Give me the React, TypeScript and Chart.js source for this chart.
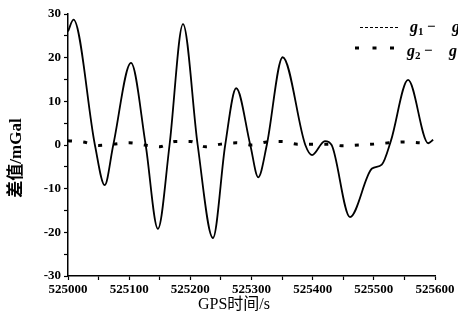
import React, { useEffect, useRef } from "react";
import { Chart, registerables } from "chart.js";

Chart.register(...registerables);

// GPS time offsets (s from 525000) and values for g1 - g (mGal)
const mainT = [0, 9, 44, 60, 74, 103, 127, 147, 166, 188, 212, 237, 257, 275, 298, 311, 325, 351, 388, 399, 420, 431, 461, 497, 513, 528, 556, 589, 597];
const mainV = [26, 28.7, 0, -9.2, 0, 18.8, 0, -19.2, 0, 27.7, 0, -21.3, 0, 13, 0, -7.4, 0, 20.1, 0, -2.3, 0.9, 0, -16.5, -5.4, -4.5, 1, 14.9, 0.4, 1.2];

// g2 - g (mGal)
const dotT = [0, 25, 50, 75, 100, 125, 150, 175, 200, 225, 250, 275, 300, 325, 350, 375, 400, 425, 450, 475, 500, 525, 550, 575];
const dotV = [1.0, 0.7, -0.1, 0.2, 0.5, 0, -0.4, 0.8, 0.8, -0.4, 0.2, 0.5, 0, 0.7, 0.8, 0.2, 0.2, 0.2, -0.2, 0, 0.2, 0.5, 0.7, 0.5];

const T0 = 525000;
const xMin = 525000;
const xMax = 525600;
const yMin = -30;
const yMax = 30;

const yTitle = "差值/mGal";
const xTitle = "GPS时间/s";
const legendSub = ["1", "2"];

const SERIF = '"Liberation Serif", "DejaVu Serif", "Noto Sans CJK SC", serif';

const overlay = {
  id: "overlay",
  afterDraw(chart: any) {
    const ctx = chart.ctx as CanvasRenderingContext2D;
    ctx.save();
    ctx.fillStyle = "#000";
    ctx.strokeStyle = "#000";
    // y title
    ctx.save();
    ctx.translate(17, 158);
    ctx.rotate(-Math.PI / 2);
    ctx.font = `bold 17px ${SERIF}`;
    ctx.textAlign = "center";
    ctx.textBaseline = "middle";
    ctx.fillText(yTitle, 0, 0);
    ctx.restore();
    // x title
    ctx.font = `16px ${SERIF}`;
    ctx.textAlign = "center";
    ctx.textBaseline = "middle";
    ctx.fillText(xTitle, 234, 305);

    // legend
    ctx.lineWidth = 1;
    ctx.setLineDash([3, 2]);
    ctx.beginPath();
    ctx.moveTo(360, 27.5);
    ctx.lineTo(400, 27.5);
    ctx.stroke();
    ctx.lineWidth = 3;
    ctx.setLineDash([4, 13.5]);
    ctx.beginPath();
    ctx.moveTo(355, 48);
    ctx.lineTo(396, 48);
    ctx.stroke();
    ctx.setLineDash([]);

    const rows = [
      { x: 410, base: 32 },
      { x: 407, base: 56 },
    ];
    rows.forEach((r, i) => {
      ctx.textAlign = "left";
      ctx.textBaseline = "alphabetic";
      ctx.font = `italic bold 16px ${SERIF}`;
      ctx.fillText("g", r.x, r.base);
      ctx.font = `bold 11px ${SERIF}`;
      ctx.fillText(legendSub[i], r.x + 8, r.base + 3);
      ctx.font = `bold 15px ${SERIF}`;
      ctx.fillText("−", r.x + 17, r.base - 1);
      ctx.font = `italic bold 16px ${SERIF}`;
      ctx.fillText("g", r.x + 42, r.base);
    });
    ctx.restore();
  },
};

export default function App() {
  const ref = useRef<HTMLCanvasElement>(null);
  useEffect(() => {
    if (!ref.current) return;
    const chart = new Chart(ref.current, {
      type: "line",
      data: {
        datasets: [
          {
            label: "g1 - g",
            data: mainT.map((t, i) => ({ x: T0 + t, y: mainV[i] })),
            borderColor: "#000",
            borderWidth: 1.8,
            pointRadius: 0,
            cubicInterpolationMode: "monotone",
            fill: false,
          },
          {
            label: "g2 - g",
            data: dotT.map((t, i) => ({ x: T0 + t, y: dotV[i] })),
            borderColor: "#000",
            borderWidth: 3,
            borderDash: [4, 11.3],
            borderCapStyle: "butt",
            pointRadius: 0,
            cubicInterpolationMode: "monotone",
            fill: false,
          },
        ],
      },
      options: {
        responsive: false,
        animation: false,
        layout: { padding: { left: 0, right: 23, top: 14, bottom: 0 } },
        plugins: { legend: { display: false }, tooltip: { enabled: false } },
        scales: {
          x: {
            type: "linear",
            min: xMin,
            max: xMax,
            afterFit: (s: any) => {
              s.height = 56;
            },
            border: { display: true, color: "#000", width: 1.5 },
            grid: { drawOnChartArea: false, color: "#000", tickLength: 4, tickWidth: 1.2 },
            ticks: {
              stepSize: 50,
              maxRotation: 0,
              autoSkip: false,
              color: "#000",
              padding: 2,
              font: { family: SERIF, size: 13, weight: "bold" },
              callback: (v: any) => (Number(v) % 100 === 0 ? String(v) : ""),
            },
          },
          y: {
            min: yMin,
            max: yMax,
            afterFit: (s: any) => {
              s.width = 68;
            },
            border: { display: true, color: "#000", width: 1.5 },
            grid: { drawOnChartArea: false, color: "#000", tickLength: 4, tickWidth: 1.2 },
            ticks: {
              stepSize: 5,
              autoSkip: false,
              color: "#000",
              padding: 3,
              font: { family: SERIF, size: 13, weight: "bold" },
              callback: (v: any) => (Number(v) % 10 === 0 ? String(v) : ""),
            },
          },
        },
      },
      plugins: [overlay],
    } as any);
    return () => chart.destroy();
  }, []);
  return (
    <div style={{ position: "fixed", left: 0, top: 0, width: 458, height: 332, background: "#fff" }}>
      <canvas ref={ref} width={458} height={332} style={{ width: 458, height: 332 }} />
    </div>
  );
}
